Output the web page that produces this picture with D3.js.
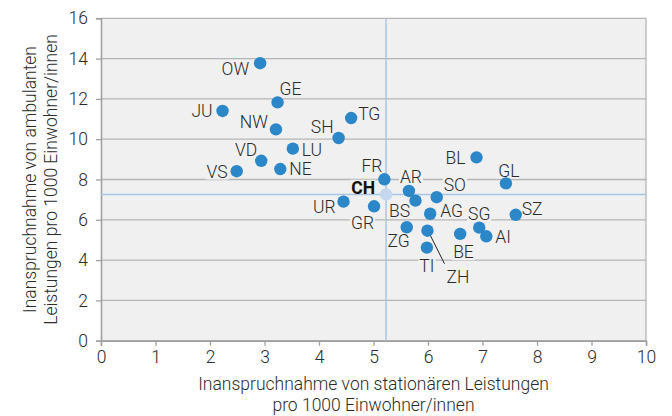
<!DOCTYPE html>
<html>
<head>
<meta charset="utf-8">
<script src="https://cdn.jsdelivr.net/npm/d3@7"></script>
<style>
  body { margin: 0; background: #fff; }
  text { font-family: Roboto, "Noto Sans", sans-serif; font-weight: 300; fill: #2b2b2b; }
</style>
</head>
<body>
<div id="chart"></div>
<script>
// Kantone: stationaer (x) und ambulant (y) pro 1000 Einwohner/innen
var cantons   = ['OW', 'GE', 'JU', 'NW', 'TG', 'SH', 'LU', 'VD', 'VS', 'NE', 'FR', 'BL', 'GL', 'AR', 'SO', 'BS', 'UR', 'GR', 'AG', 'ZG', 'ZH', 'BE', 'SG', 'AI', 'TI', 'SZ'];
var inpatient = [2.92, 3.24, 2.23, 3.21, 4.59, 4.36, 3.52, 2.94, 2.49, 3.29, 5.20, 6.89, 7.43, 5.65, 6.16, 5.77, 4.45, 5.01, 6.04, 5.61, 5.99, 6.59, 6.94, 7.07, 5.98, 7.61];
var outpatient = [13.77, 11.83, 11.40, 10.49, 11.05, 10.06, 9.53, 8.93, 8.41, 8.52, 8.01, 9.10, 7.81, 7.43, 7.12, 6.95, 6.90, 6.67, 6.30, 5.63, 5.46, 5.30, 5.61, 5.18, 4.62, 6.25];

// Schweiz gesamt (Mittelwert, Kreuzlinien)
var chName = 'CH';
var chInpatient = 5.23;
var chOutpatient = 7.26;

var xTicks = [0, 1, 2, 3, 4, 5, 6, 7, 8, 9, 10];
var yTicks = [0, 2, 4, 6, 8, 10, 12, 14, 16];

var xTitle = ['Inanspruchnahme von stationären Leistungen', 'pro 1000 Einwohner/innen'];
var yTitle = ['Inanspruchnahme von ambulanten', 'Leistungen pro 1000 Einwohner/innen'];

// label placement relative to the dot (layout only)
var labelPos = {
  OW: [-11, 5, 'end'],  GE: [13, -14, 'middle'], JU: [-10, 0, 'end'],
  NW: [-8, -8, 'end'],  TG: [7, -4, 'start'],    SH: [-5, -11, 'end'],
  LU: [9, 1, 'start'],  VD: [-4, -11, 'end'],    VS: [-9, 0, 'end'],
  NE: [9, 0, 'start'],  FR: [-2, -14, 'end'],    BL: [-11, 0, 'end'],
  GL: [3, -13, 'middle'], AR: [-9, -14, 'start'], SO: [7, -13, 'start'],
  BS: [-16, 10, 'middle'], UR: [-8, 5, 'end'],   GR: [0, 16, 'end'],
  AG: [10, -3, 'start'], ZG: [3, 13, 'end'],     ZH: [19, 46, 'start'],
  BE: [-7, 18, 'start'], SG: [0, -14, 'middle'], AI: [9, 0, 'start'],
  TI: [0, 18, 'middle'], SZ: [6, -6, 'start']
};
var chLabelPos = [-11, -7, 'end'];

var width = 672, height = 416;
var plotLeft = 101, plotRight = 646, plotTop = 18.3, plotBottom = 340.7;
var fontSize = '17.5px';

var x = d3.scaleLinear().domain([0, 10]).range([plotLeft, plotRight]);
var y = d3.scaleLinear().domain([0, 16]).range([plotBottom, plotTop]);

var svg = d3.select('#chart').append('svg')
  .attr('width', width)
  .attr('height', height);

// plot background
svg.append('rect')
  .attr('x', plotLeft).attr('y', plotTop)
  .attr('width', plotRight - plotLeft).attr('height', plotBottom - plotTop)
  .attr('fill', '#f0f0f0');

// horizontal gridlines
svg.append('g').selectAll('line')
  .data(yTicks)
  .enter().append('line')
  .attr('x1', plotLeft).attr('x2', plotRight)
  .attr('y1', function(d) { return y(d); })
  .attr('y2', function(d) { return y(d); })
  .attr('stroke', '#b5b5b5')
  .attr('stroke-width', 1.3);

// right border
svg.append('line')
  .attr('x1', plotRight).attr('x2', plotRight)
  .attr('y1', plotTop).attr('y2', plotBottom)
  .attr('stroke', '#b5b5b5').attr('stroke-width', 1.3);

// axes
var xAxis = svg.append('g')
  .attr('transform', 'translate(0,' + plotBottom + ')')
  .call(d3.axisBottom(x).tickValues(xTicks).tickSize(5).tickPadding(5));
var yAxis = svg.append('g')
  .attr('transform', 'translate(' + plotLeft + ',0)')
  .call(d3.axisLeft(y).tickValues(yTicks).tickSize(5).tickPadding(8));

[xAxis, yAxis].forEach(function(a) {
  a.select('.domain').attr('stroke', '#a0a0a0').attr('stroke-width', 1.6);
  a.selectAll('.tick line').attr('stroke', '#a0a0a0').attr('stroke-width', 1.3);
  a.selectAll('.tick text')
    .style('font-family', 'Roboto, sans-serif')
    .style('font-weight', 300)
    .style('font-size', fontSize)
    .attr('fill', '#2b2b2b');
});

// label layer: backgrounds go under, text on top
var bgLayer = svg.append('g');
var meanLayer = svg.append('g');
var dotLayer = svg.append('g');
var textLayer = svg.append('g');

var points = cantons.map(function(c, i) {
  return { name: c, x: inpatient[i], y: outpatient[i] };
});

textLayer.selectAll('text.lbl')
  .data(points)
  .enter().append('text')
  .attr('class', 'lbl')
  .attr('x', function(d) { return x(d.x) + labelPos[d.name][0]; })
  .attr('y', function(d) { return y(d.y) + labelPos[d.name][1]; })
  .attr('dy', '0.36em')
  .attr('text-anchor', function(d) { return labelPos[d.name][2]; })
  .style('font-size', fontSize)
  .text(function(d) { return d.name; });

textLayer.append('text')
  .attr('x', x(chInpatient) + chLabelPos[0])
  .attr('y', y(chOutpatient) + chLabelPos[1])
  .attr('dy', '0.36em')
  .attr('text-anchor', chLabelPos[2])
  .style('font-size', fontSize)
  .style('font-weight', 700)
  .style('fill', '#111')
  .text(chName);

textLayer.selectAll('text').each(function() {
  var b = this.getBBox();
  bgLayer.append('rect')
    .attr('x', b.x - 1).attr('y', b.y + 2)
    .attr('width', b.width + 2).attr('height', b.height - 4)
    .attr('fill', '#f0f0f0');
});

// mean lines (CH)
meanLayer.append('line')
  .attr('x1', x(chInpatient)).attr('x2', x(chInpatient))
  .attr('y1', plotTop).attr('y2', plotBottom)
  .attr('stroke', '#a9c5e4').attr('stroke-width', 1.5);
meanLayer.append('line')
  .attr('x1', plotLeft).attr('x2', plotRight)
  .attr('y1', y(chOutpatient)).attr('y2', y(chOutpatient))
  .attr('stroke', '#a9c5e4').attr('stroke-width', 1.5);

// leader line for ZH
var zh = points[cantons.indexOf('ZH')];
meanLayer.append('line')
  .attr('x1', x(zh.x) + 2).attr('y1', y(zh.y) + 3)
  .attr('x2', x(zh.x) + 17).attr('y2', y(zh.y) + 33)
  .attr('stroke', '#222').attr('stroke-width', 1);

dotLayer.selectAll('circle')
  .data(points)
  .enter().append('circle')
  .attr('cx', function(d) { return x(d.x); })
  .attr('cy', function(d) { return y(d.y); })
  .attr('r', 6.2)
  .attr('fill', '#2b87c8');

dotLayer.append('circle')
  .attr('cx', x(chInpatient))
  .attr('cy', y(chOutpatient))
  .attr('r', 6.2)
  .attr('fill', '#c3d7ee');

// axis titles
svg.append('text')
  .attr('text-anchor', 'middle')
  .style('font-size', fontSize)
  .selectAll('tspan')
  .data(xTitle)
  .enter().append('tspan')
  .attr('x', (plotLeft + plotRight) / 2)
  .attr('y', function(d, i) { return 390 + i * 21; })
  .text(function(d) { return d; });

svg.append('text')
  .attr('text-anchor', 'middle')
  .attr('transform', 'translate(0,' + (plotTop + plotBottom) / 2 + ') rotate(-90)')
  .style('font-size', fontSize)
  .selectAll('tspan')
  .data(yTitle)
  .enter().append('tspan')
  .attr('x', 0)
  .attr('y', function(d, i) { return 36 + i * 21; })
  .text(function(d) { return d; });
</script>
</body>
</html>
